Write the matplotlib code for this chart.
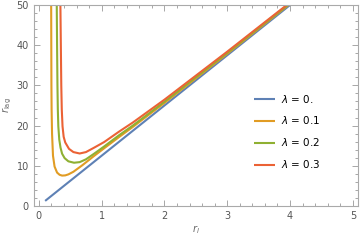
import matplotlib
matplotlib.use("Agg")
import matplotlib.pyplot as plt
from matplotlib.ticker import MultipleLocator

# data
r_l0 = [0.1, 1.0, 2.0, 3.0, 4.0, 4.2]
lag_l0 = [1.25, 12.5, 25.0, 37.5, 50.0, 52.5]

r_l1 = [0.194, 0.196, 0.198, 0.200, 0.203, 0.21, 0.225, 0.25, 0.29, 0.33, 0.37, 0.42,
        0.47, 0.55, 0.69, 0.88, 1.04, 1.278, 1.5, 2.0, 3.0, 4.0, 4.2]
lag_l1 = [55, 50, 40, 30, 24, 18, 12.5, 9.8, 8.3, 7.75, 7.55, 7.6,
          7.85, 8.5, 10.1, 12.45, 14.35, 17.15, 19.7, 25.65, 37.88, 50.32, 52.82]

r_l2 = [0.283, 0.285, 0.29, 0.296, 0.302, 0.31, 0.325, 0.345, 0.37, 0.41, 0.47, 0.56,
        0.65, 0.75, 0.88, 1.04, 1.278, 1.5, 2.0, 3.0, 4.0, 4.2]
lag_l2 = [55, 50, 40, 30, 24, 19.8, 16.5, 14.5, 13.0, 11.9, 11.1, 10.75,
          10.9, 11.6, 13.0, 14.8, 17.6, 20.05, 25.95, 38.1, 50.45, 52.95]

r_l3 = [0.34, 0.343, 0.35, 0.357, 0.365, 0.377, 0.395, 0.42, 0.48, 0.55, 0.65, 0.75,
        0.88, 1.04, 1.278, 1.5, 2.0, 3.0, 4.0, 4.2]
lag_l3 = [55, 50, 40, 30, 24, 19.8, 17.2, 15.8, 14.2, 13.4, 13.05, 13.4,
          14.5, 15.9, 18.5, 20.8, 26.45, 38.4, 50.65, 53.15]

labels = [r"$\lambda$ = 0.", r"$\lambda$ = 0.1", r"$\lambda$ = 0.2", r"$\lambda$ = 0.3"]
colors = ["#5E81B5", "#E19C24", "#8FB032", "#EB6235"]

fig = plt.figure(figsize=(3.6, 2.4), dpi=100)
ax = fig.add_axes([0.094, 0.142, 0.9, 0.837])

series = [(r_l0, lag_l0), (r_l1, lag_l1), (r_l2, lag_l2), (r_l3, lag_l3)]
for (x, y), lab, c in zip(series, labels, colors):
    ax.plot(x, y, color=c, lw=1.5, label=lab, solid_capstyle="butt",
            solid_joinstyle="round")

ax.set_xlim(-0.08, 5.08)
ax.set_ylim(0, 50)
ax.xaxis.set_major_locator(MultipleLocator(1))
ax.xaxis.set_minor_locator(MultipleLocator(0.2))
ax.yaxis.set_major_locator(MultipleLocator(10))
ax.yaxis.set_minor_locator(MultipleLocator(2))
ax.tick_params(which="both", direction="in", top=True, right=True,
               colors="#999999", labelcolor="#555555", labelsize=7, width=0.6)
ax.tick_params(which="major", length=4)
ax.tick_params(which="minor", length=2)
for s in ax.spines.values():
    s.set_color("#aaaaaa")
    s.set_linewidth(0.8)

ax.set_xlabel(r"$r_l$", color="#666666", fontsize=7, labelpad=2)
ax.set_ylabel(r"$r_{\mathrm{lag}}$", color="#666666", fontsize=7, labelpad=2)

ax.legend(loc="upper left", bbox_to_anchor=(0.667, 0.585), frameon=False,
          fontsize=7.5, handlelength=2.0, handletextpad=0.6, labelspacing=0.95,
          borderaxespad=0)

fig.savefig("out.png", dpi=100)
